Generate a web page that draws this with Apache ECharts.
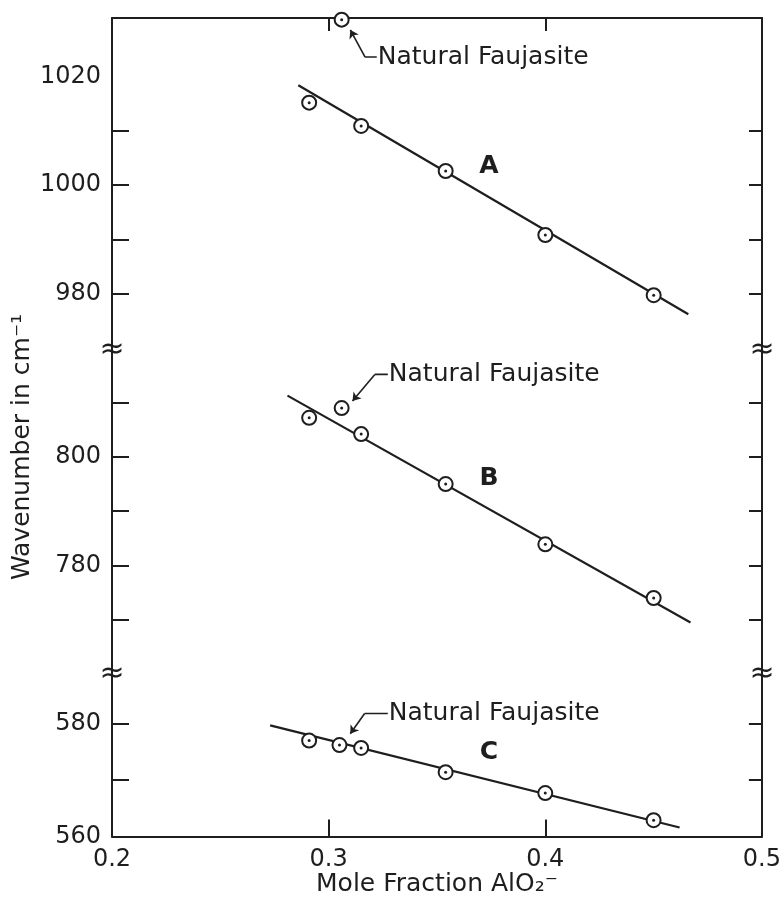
<!DOCTYPE html>
<html><head><meta charset="utf-8">
<script src="https://cdn.jsdelivr.net/npm/echarts@6/dist/echarts.min.js"></script>
<style>html,body{margin:0;padding:0;background:#fff}#c{width:784px;height:899px}</style>
</head><body><div id="c"></div>
<script>
// ---- data ----
const xPoints = [0.291, 0.315, 0.354, 0.400, 0.450];
const bandA = [1015.2, 1010.9, 1002.6, 990.8, 979.7];
const bandB = [807.2, 804.2, 795.0, 783.9, 774.0];
const bandC = [577.0, 575.7, 571.4, 567.7, 562.9];
const naturalX = [0.306, 0.306, 0.305];
const naturalY = [1030.5, 809.0, 576.2];
const fitAX = [0.286, 0.466], fitAY = [1018.4, 976.2];
const fitBX = [0.281, 0.467], fitBY = [811.3, 769.5];
const fitCX = [0.273, 0.462], fitCY = [579.7, 561.6];
const leaderTipX = [0.310, 0.311, 0.310];
const leaderTipY = [1028.6, 810.3, 578.2];
const leaderElbowX = [0.3168, 0.3213, 0.3166];
const leaderElbowY = [1023.6, 815.2, 581.8];
const leaderEndX = [0.3222, 0.3273, 0.3273];
const annotationText = 'Natural Faujasite';
const panelNames = ['A', 'B', 'C'];
const panelLabelX = [0.374, 0.374, 0.374];
const panelLabelY = [1003.5, 796.0, 574.9];
const yMin = [969.6, 760.0, 560];
const yMax = [1030.8, 819.7, 588.8];
const leftTicks = [[980, 990, 1000, 1010], [770, 780, 790, 800, 810], [570, 580]];
const rightTicks = [[980, 990, 1000, 1010], [770, 780, 790, 800, 810], [570, 580]];
const leftLabels = [[980, 1000, 1020], [780, 800], [560, 580]];
const xTicks = [0.3, 0.4];
const xLabels = [0.2, 0.3, 0.4, 0.5];
const xTitle = 'Mole Fraction AlO\u2082\u207B';
const yTitle = 'Wavenumber in cm\u207B\u00B9';

// ---- layout / style ----
const W = 784, H = 899;
const L = 112, R = 22;
const gridTop = [18, 350, 674];
const gridH = [332, 324, 162.5];
const INK = '#1e1e1e';
const TXT = '#1e1e1e';
const FONT = 'DejaVu Sans';
const bands = [bandA, bandB, bandC];
const fitsX = [fitAX, fitBX, fitCX];
const fitsY = [fitAY, fitBY, fitCY];

const grids = [], xAxes = [], yAxes = [], series = [];
for (let i = 0; i < 3; i++) {
  grids.push({ left: L, right: R, top: gridTop[i], height: gridH[i], containLabel: false });
  xAxes.push({
    type: 'value', gridIndex: i, min: 0.2, max: 0.5,
    show: i !== 1,
    position: i === 0 ? 'top' : 'bottom',
    axisLine: { show: true, lineStyle: { color: INK, width: 2 } },
    axisTick: { show: true, inside: true, length: i === 0 ? 13 : 17, customValues: xTicks,
      lineStyle: { color: INK, width: 2 } },
    axisLabel: { show: i === 2, customValues: xLabels, margin: 11,
      formatter: v => Number(v).toFixed(1),
      color: TXT, fontFamily: FONT, fontSize: 24 },
    splitLine: { show: false },
    name: i === 2 ? xTitle : '', nameLocation: 'middle', nameGap: 35,
    nameTextStyle: { color: TXT, fontFamily: FONT, fontSize: 25 }
  });
  yAxes.push({
    type: 'value', gridIndex: i, min: yMin[i], max: yMax[i], position: 'left',
    axisLine: { show: true, onZero: false, lineStyle: { color: INK, width: 2 } },
    axisTick: { show: true, inside: true, length: 17, customValues: leftTicks[i],
      lineStyle: { color: INK, width: 2 } },
    axisLabel: { show: true, customValues: leftLabels[i], margin: 11,
      formatter: v => String(Math.round(v)),
      color: TXT, fontFamily: FONT, fontSize: 24 },
    splitLine: { show: false }
  });
  yAxes.push({
    type: 'value', gridIndex: i, min: yMin[i], max: yMax[i], position: 'right',
    axisLine: { show: true, onZero: false, lineStyle: { color: INK, width: 2 } },
    axisTick: { show: true, inside: true, length: 13, customValues: rightTicks[i],
      lineStyle: { color: INK, width: 2 } },
    axisLabel: { show: false },
    splitLine: { show: false }
  });

  const yi = 2 * i;
  const pts = xPoints.map((x, k) => [x, bands[i][k]]).concat([[naturalX[i], naturalY[i]]]);
  // fitted line
  series.push({
    type: 'line', xAxisIndex: i, yAxisIndex: yi, symbol: 'none', silent: true,
    data: fitsX[i].map((x, k) => [x, fitsY[i][k]]),
    lineStyle: { color: INK, width: 2.2 }, z: 2
  });
  // open circles
  series.push({
    type: 'scatter', xAxisIndex: i, yAxisIndex: yi, clip: false, silent: true,
    data: pts, symbol: 'circle', symbolSize: 14,
    itemStyle: { color: '#fff', borderColor: INK, borderWidth: 2, opacity: 1 }, z: 4
  });
  // centre dots
  series.push({
    type: 'scatter', xAxisIndex: i, yAxisIndex: yi, clip: false, silent: true,
    data: pts, symbol: 'circle', symbolSize: 3,
    itemStyle: { color: INK, opacity: 1 }, z: 5
  });
  // leader with arrow
  series.push({
    type: 'lines', coordinateSystem: 'cartesian2d', xAxisIndex: i, yAxisIndex: yi,
    silent: true, symbol: ['none', 'arrow'], symbolSize: 8,
    data: [{ coords: [[leaderElbowX[i], leaderElbowY[i]], [leaderTipX[i], leaderTipY[i]]] }],
    lineStyle: { color: INK, width: 1.6, opacity: 1, curveness: 0 }, z: 6
  });
  series.push({
    type: 'line', xAxisIndex: i, yAxisIndex: yi, symbol: 'none', silent: true,
    data: [[leaderElbowX[i], leaderElbowY[i]], [leaderEndX[i], leaderElbowY[i]]],
    lineStyle: { color: INK, width: 1.6 }, z: 6
  });
  // annotation text
  series.push({
    type: 'scatter', xAxisIndex: i, yAxisIndex: yi, clip: false, silent: true,
    data: [[leaderEndX[i], leaderElbowY[i]]], symbolSize: 0,
    itemStyle: { opacity: 1 },
    label: { show: true, position: 'right', distance: 1, formatter: annotationText,
      color: TXT, opacity: 1, fontFamily: FONT, fontSize: 25 }, z: 6
  });
  // panel letter
  series.push({
    type: 'scatter', xAxisIndex: i, yAxisIndex: yi, clip: false, silent: true,
    data: [[panelLabelX[i], panelLabelY[i]]], symbolSize: 0,
    itemStyle: { opacity: 1 },
    label: { show: true, position: 'inside', formatter: panelNames[i],
      color: TXT, opacity: 1, fontFamily: FONT, fontSize: 25, fontWeight: 'bold' }, z: 6
  });
}

const graphic = [];
[gridTop[1], gridTop[2]].forEach(y => {
  [L, W - R].forEach(x => {
    graphic.push({ type: 'text', x: x, y: y, z: 100, silent: true,
      style: { text: '\u2248', fontFamily: FONT, fontSize: 30, fill: INK,
        align: 'center', verticalAlign: 'middle' } });
  });
});
graphic.push({ type: 'text', x: 22, y: 447, rotation: Math.PI / 2, silent: true,
  style: { text: yTitle, fontFamily: FONT, fontSize: 25, fill: TXT,
    align: 'center', verticalAlign: 'middle' } });

const chart = echarts.init(document.getElementById('c'), null, { renderer: 'canvas' });
chart.setOption({
  animation: false,
  backgroundColor: '#fff',
  grid: grids, xAxis: xAxes, yAxis: yAxes, series: series, graphic: graphic
});
</script></body></html>
